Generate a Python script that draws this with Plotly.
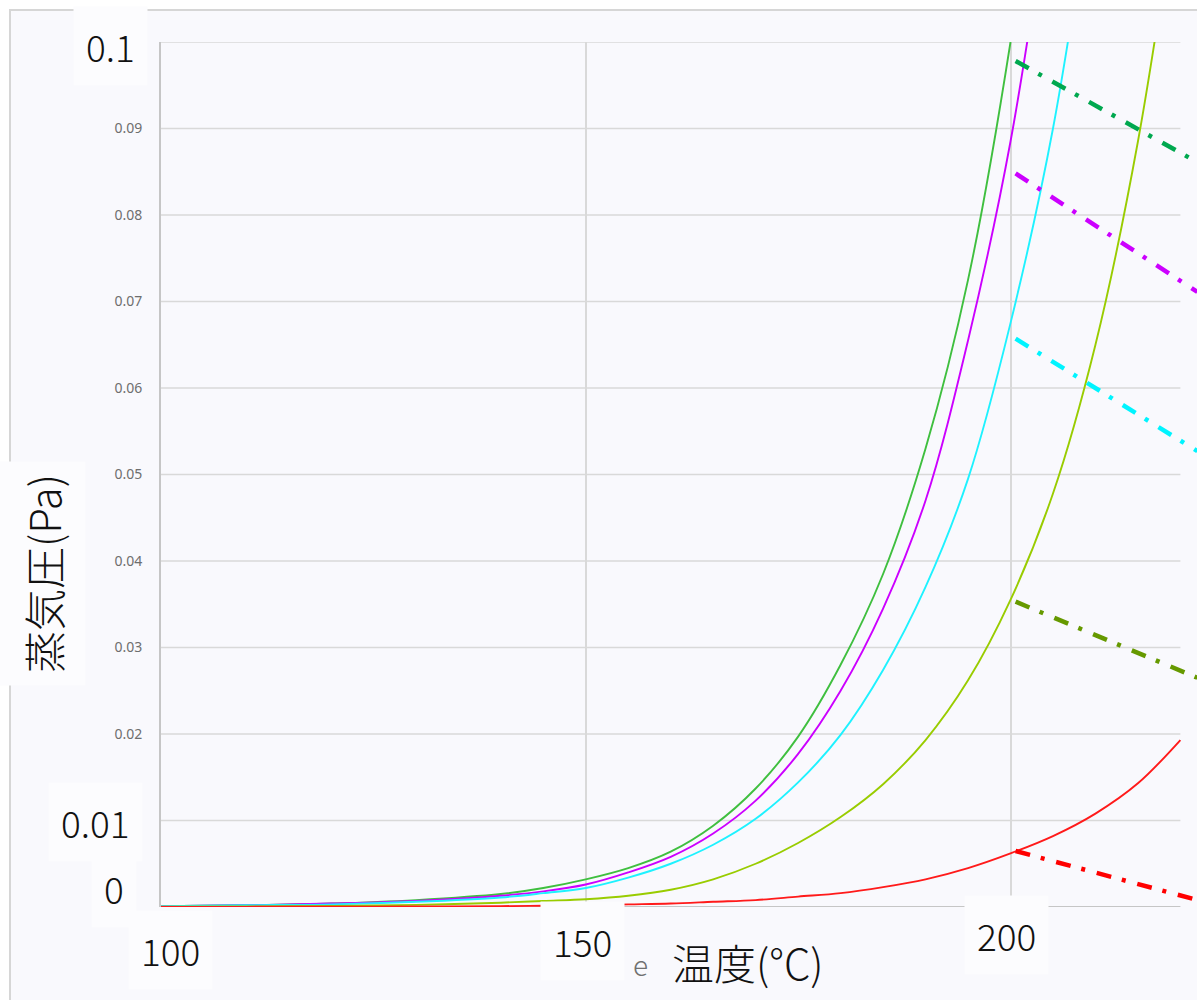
import plotly.graph_objects as go

# ---- data ----
temps = [100, 110, 120, 130, 140, 145, 150, 155, 160, 165, 170, 175, 180, 185, 190, 195, 200, 205, 210, 215, 220]

green = [0.0001, 0.0002, 0.0004, 0.0008, 0.0015, 0.0022, 0.0032, 0.0045, 0.0064, 0.0094, 0.0137, 0.0197,
         0.0280, 0.0385, 0.0530, 0.0725, 0.1000, 0.136]
magenta = [0.0001, 0.0002, 0.0004, 0.0007, 0.0013, 0.0018, 0.0026, 0.0040, 0.0058, 0.0085, 0.0123, 0.0177,
           0.0250, 0.0345, 0.0470, 0.0655, 0.0885, 0.120]
cyan = [0.0001, 0.0002, 0.0003, 0.0006, 0.0011, 0.0016, 0.0022, 0.0034, 0.0050, 0.0072, 0.0102, 0.0144,
        0.0199, 0.0274, 0.0370, 0.0495, 0.0675, 0.0900, 0.121]
yellowgreen = [0.00003, 0.00006, 0.00012, 0.00025, 0.0005, 0.0007, 0.0009, 0.0013, 0.0020, 0.0032, 0.0050,
               0.0074, 0.0104, 0.0142, 0.0193, 0.0262, 0.0355, 0.0478, 0.0650, 0.0885, 0.120]
red = [0.00001, 0.00002, 0.00003, 0.00005, 0.0001, 0.00014, 0.0002, 0.0003, 0.0004, 0.0006, 0.0008, 0.0012,
       0.0016, 0.0023, 0.0032, 0.0045, 0.0062, 0.0082, 0.0108, 0.0143, 0.0193]

dash_x = [200.6, 222.0]
dash_green = [0.0978, 0.0861]
dash_magenta = [0.0848, 0.0711]
dash_cyan = [0.0657, 0.0527]
dash_olive = [0.0353, 0.0265]
dash_red = [0.00647, 0.0008]

y_ticks = [0.02, 0.03, 0.04, 0.05, 0.06, 0.07, 0.08, 0.09]
y_tick_text = ["0.02", "0.03", "0.04", "0.05", "0.06", "0.07", "0.08", "0.09"]
grid_y = [0.01, 0.02, 0.03, 0.04, 0.05, 0.06, 0.07, 0.08, 0.09, 0.1]
grid_x = [150, 200]

# ---- layout geometry ----
W, H = 1197, 1000
ML, MR, MT, MB = 161, 0, 42, 93
PW, PH = W - ML - MR, H - MT - MB


def px(xp):
    return (xp - ML) / PW


def py(yp):
    return (H - MB - yp) / PH


BG = "#f9f9fd"
BOX = "#fcfcfe"
FONT = "Noto Sans CJK JP"

fig = go.Figure()

solid = [
    (green, "#3fbf3f"),
    (magenta, "#cc00ff"),
    (cyan, "#1ef2ff"),
    (yellowgreen, "#99cc00"),
    (red, "#ff1a1a"),
]
for vals, col in solid:
    fig.add_trace(go.Scatter(x=temps[:len(vals)], y=vals, mode="lines",
                             line=dict(color=col, width=1.9, shape="spline", smoothing=1.0),
                             showlegend=False, hoverinfo="skip"))

dash_pattern = "15px,11px,4px,12px"
for vals, col in [(dash_green, "#00a84f"), (dash_magenta, "#cc00ff"), (dash_cyan, "#00f4ff"),
                  (dash_olive, "#669900"), (dash_red, "#ff0000")]:
    fig.add_trace(go.Scatter(x=dash_x, y=vals, mode="lines",
                             line=dict(color=col, width=4.5, dash=dash_pattern),
                             showlegend=False, hoverinfo="skip"))

shapes = []
# outer panel with border
shapes.append(dict(type="rect", xref="paper", yref="paper", layer="below",
                   x0=px(10), x1=px(W + 20), y0=py(H + 20), y1=py(10),
                   fillcolor=BG, line=dict(color="#d6d6d6", width=2)))
# horizontal grid lines (stop at 220)
for g in grid_y:
    shapes.append(dict(type="line", xref="x", yref="y", layer="below",
                       x0=temps[0], x1=temps[-1], y0=g, y1=g,
                       line=dict(color="#d9d9d9", width=1.6)))
# bottom axis line
shapes.append(dict(type="line", xref="x", yref="y", layer="below",
                   x0=temps[0], x1=temps[-1], y0=0, y1=0,
                   line=dict(color="#c6c6c6", width=2)))

annotations = []


def label(text, cx, cy, size=37, color="#111111", bg=BOX, angle=0, pad=12):
    annotations.append(dict(text=text, xref="paper", yref="paper", x=px(cx), y=py(cy),
                            xanchor="center", yanchor="middle", showarrow=False, textangle=angle,
                            font=dict(family=FONT, size=size, color=color, weight=300),
                            bgcolor=bg, borderpad=pad))


label("0.1", 110, 46)
label("0.01", 95, 822)
label("0", 114, 888)
label("100", 170, 950)
label("150", 582, 941)
label("200", 1006, 935)
label("e", 640, 964, size=28, color="#707070", bg="rgba(0,0,0,0)", pad=0)
label("温度(°C)", 748, 962, size=42, bg="rgba(0,0,0,0)", pad=0)
label("蒸気圧(Pa)", 42, 574, size=42, angle=-90, pad=12)

fig.update_layout(
    width=W, height=H,
    margin=dict(l=ML, r=MR, t=MT, b=MB, pad=0),
    paper_bgcolor="white",
    plot_bgcolor=BG,
    shapes=shapes,
    annotations=annotations,
    xaxis=dict(range=[100, 100 + (W - ML) / 8.495], showgrid=True, gridcolor="#d9d9d9", gridwidth=1.6,
               tickvals=grid_x, showticklabels=False, zeroline=False, showline=False, ticks=""),
    yaxis=dict(range=[0, 0.1], showgrid=False, zeroline=False, showline=True, linecolor="#c6c6c6",
               linewidth=2, tickvals=y_ticks, ticktext=y_tick_text, ticks="",
               tickfont=dict(family="Noto Sans", size=14, color="#6e6e6e"), ticklabelstandoff=14),
)

fig.write_html("out.html", config={"displayModeBar": False},
               post_script="document.body.style.margin='0';document.body.style.overflow='hidden';")
